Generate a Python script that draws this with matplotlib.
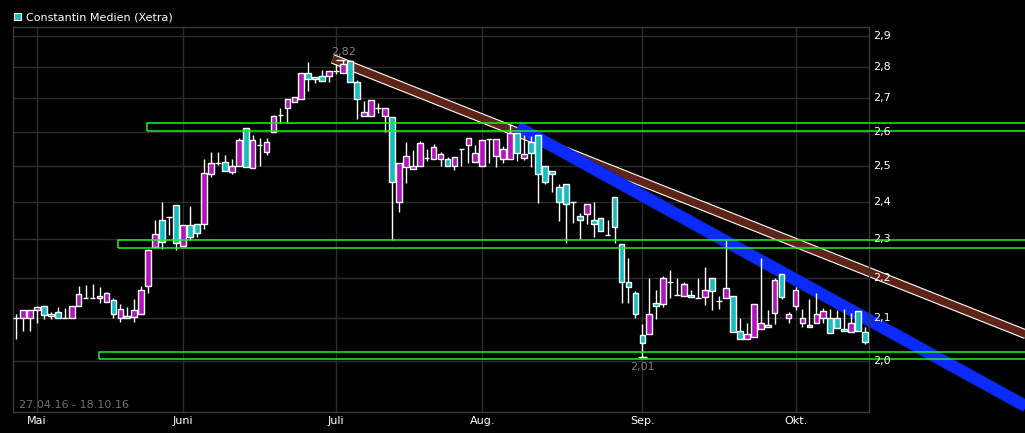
import matplotlib
matplotlib.use("Agg")
import matplotlib.pyplot as plt
from matplotlib.patches import Rectangle
from matplotlib.transforms import blended_transform_factory
import numpy as np
import pandas as pd

# trading days (Xetra), 27.04.16 - 18.10.16
holidays = ["2016-05-16", "2016-10-03"]
dates = pd.bdate_range("2016-04-27", "2016-10-18")
dates = dates[~dates.isin(pd.to_datetime(holidays))]

opens = [2.10, 2.10, 2.10, 2.12, 2.13, 2.106, 2.115, 2.10, 2.10, 2.13,
         2.149, 2.149, 2.149, 2.14, 2.145, 2.10, 2.106, 2.103, 2.11, 2.179,
         2.279, 2.35, 2.358, 2.391, 2.281, 2.337, 2.339, 2.339, 2.477, 2.508,
         2.511, 2.482, 2.50, 2.61, 2.494, 2.56, 2.54, 2.60, 2.65, 2.671,
         2.689, 2.699, 2.78, 2.768, 2.771, 2.771, 2.787, 2.78, 2.819, 2.752,
         2.647, 2.647, 2.671, 2.647, 2.644, 2.399, 2.497, 2.491, 2.50, 2.523,
         2.52, 2.52, 2.52, 2.50, 2.549, 2.56, 2.511, 2.50, 2.578, 2.528,
         2.52, 2.52, 2.596, 2.523, 2.569, 2.59, 2.50, 2.485, 2.44, 2.449,
         2.399, 2.361, 2.366, 2.35, 2.355, 2.31, 2.413, 2.286, 2.189, 2.162,
         2.06, 2.063, 2.137, 2.135, 2.189, 2.157, 2.154, 2.157, 2.149, 2.152,
         2.199, 2.142, 2.149, 2.154, 2.07, 2.051, 2.056, 2.075, 2.079, 2.113,
         2.209, 2.10, 2.13, 2.089, 2.084, 2.089, 2.10, 2.10, 2.10, 2.075,
         2.067, 2.118, 2.067]
highs = [2.11, 2.12, 2.12, 2.13, 2.13, 2.115, 2.127, 2.125, 2.13, 2.179,
         2.182, 2.184, 2.177, 2.164, 2.149, 2.135, 2.127, 2.147, 2.179, 2.273,
         2.35, 2.399, 2.358, 2.391, 2.337, 2.388, 2.339, 2.52, 2.54, 2.54,
         2.531, 2.52, 2.58, 2.61, 2.59, 2.58, 2.58, 2.65, 2.671, 2.699,
         2.705, 2.78, 2.815, 2.768, 2.79, 2.787, 2.81, 2.822, 2.82, 2.758,
         2.693, 2.696, 2.686, 2.671, 2.644, 2.508, 2.569, 2.546, 2.572, 2.549,
         2.563, 2.54, 2.525, 2.525, 2.549, 2.581, 2.56, 2.575, 2.578, 2.578,
         2.557, 2.623, 2.596, 2.59, 2.587, 2.59, 2.50, 2.485, 2.449, 2.449,
         2.399, 2.369, 2.393, 2.399, 2.355, 2.35, 2.413, 2.286, 2.25, 2.167,
         2.086, 2.199, 2.169, 2.204, 2.219, 2.199, 2.189, 2.169, 2.199, 2.227,
         2.199, 2.154, 2.297, 2.154, 2.10, 2.089, 2.135, 2.25, 2.12, 2.199,
         2.209, 2.115, 2.177, 2.123, 2.147, 2.162, 2.125, 2.123, 2.12, 2.123,
         2.113, 2.118, 2.08]
lows = [2.05, 2.07, 2.07, 2.089, 2.098, 2.098, 2.10, 2.10, 2.10, 2.13,
        2.149, 2.149, 2.137, 2.14, 2.10, 2.091, 2.10, 2.091, 2.11, 2.162,
        2.279, 2.273, 2.31, 2.271, 2.281, 2.297, 2.305, 2.326, 2.468, 2.502,
        2.485, 2.477, 2.50, 2.497, 2.494, 2.50, 2.53, 2.60, 2.626, 2.626,
        2.689, 2.699, 2.724, 2.749, 2.755, 2.752, 2.777, 2.78, 2.752, 2.638,
        2.647, 2.647, 2.656, 2.599, 2.297, 2.371, 2.451, 2.491, 2.50, 2.514,
        2.52, 2.50, 2.50, 2.488, 2.50, 2.508, 2.511, 2.50, 2.508, 2.497,
        2.508, 2.52, 2.514, 2.517, 2.497, 2.396, 2.449, 2.426, 2.347, 2.289,
        2.342, 2.299, 2.339, 2.305, 2.321, 2.31, 2.289, 2.137, 2.137, 2.10,
        2.01, 2.063, 2.098, 2.127, 2.149, 2.157, 2.154, 2.152, 2.149, 2.132,
        2.12, 2.123, 2.149, 2.067, 2.051, 2.051, 2.056, 2.075, 2.079, 2.086,
        2.147, 2.089, 2.12, 2.079, 2.079, 2.089, 2.089, 2.065, 2.077, 2.07,
        2.067, 2.07, 2.039]
closes = [2.10, 2.12, 2.12, 2.127, 2.108, 2.11, 2.10, 2.10, 2.13, 2.159,
          2.149, 2.149, 2.154, 2.162, 2.11, 2.123, 2.10, 2.12, 2.169, 2.271,
          2.313, 2.292, 2.358, 2.289, 2.337, 2.305, 2.315, 2.48, 2.508, 2.508,
          2.485, 2.50, 2.575, 2.497, 2.575, 2.56, 2.57, 2.645, 2.65, 2.699,
          2.705, 2.78, 2.761, 2.761, 2.755, 2.787, 2.787, 2.809, 2.752, 2.699,
          2.659, 2.696, 2.671, 2.671, 2.454, 2.508, 2.528, 2.50, 2.566, 2.523,
          2.555, 2.534, 2.50, 2.525, 2.549, 2.581, 2.537, 2.575, 2.578, 2.578,
          2.549, 2.596, 2.537, 2.534, 2.537, 2.477, 2.454, 2.477, 2.399, 2.393,
          2.399, 2.35, 2.393, 2.339, 2.321, 2.31, 2.331, 2.189, 2.177, 2.11,
          2.042, 2.11, 2.13, 2.199, 2.189, 2.157, 2.184, 2.152, 2.149, 2.169,
          2.167, 2.142, 2.174, 2.067, 2.051, 2.063, 2.135, 2.089, 2.084, 2.194,
          2.152, 2.11, 2.169, 2.10, 2.079, 2.11, 2.118, 2.065, 2.077, 2.07,
          2.089, 2.07, 2.044]

month_names = {5: "Mai", 6: "Juni", 7: "Juli", 8: "Aug.", 9: "Sep.", 10: "Okt."}
y_levels = [2.0, 2.1, 2.2, 2.3, 2.4, 2.5, 2.6, 2.7, 2.8, 2.9]

# green support/resistance zones: (start index, low, high)
zones = [(18.8, 2.602, 2.626), (14.7, 2.276, 2.297), (11.9, 2.005, 2.021)]
# trend channels: (idx0, price0, idx1, price1)
brown_trend = (45.5, 2.825, 148.0, 2.043)
blue_trend = (72.1, 2.6135, 148.0, 1.875)

UP = "#b414be"
DOWN = "#14bebe"
GRID = "#2c2c2c"

x = np.arange(len(dates))
o = np.array(opens); h = np.array(highs); l = np.array(lows); c = np.array(closes)

fig = plt.figure(figsize=(10.25, 4.33), dpi=100, facecolor="black")
W, H = 1025, 433
ax = fig.add_axes([13 / W, (H - 412) / H, (869 - 13) / W, (412 - 27) / H])
ax.set_facecolor("black")
ax.set_yscale("log")
ax.set_ylim(1.8866, 2.930)
ax.set_xlim(-0.43, 122.56)

for s in ax.spines.values():
    s.set_color("#3a3a3a")
    s.set_linewidth(1)

# grid
for lv in y_levels:
    ax.axhline(lv, color=GRID, lw=1, zorder=0)
month_idx = []
for i in range(1, len(dates)):
    if dates[i].month != dates[i - 1].month:
        month_idx.append(i)
for i in month_idx:
    ax.axvline(i, color=GRID, lw=1, zorder=0)

ax.set_xticks([])
ax.set_yticks([])
ax.yaxis.set_minor_locator(matplotlib.ticker.NullLocator())

# trend channels (drawn beyond the frame)
bx = [brown_trend[0], brown_trend[2]]
by = [brown_trend[1], brown_trend[3]]
ax.plot(bx, by, color="white", lw=7.0, solid_capstyle="butt", clip_on=False, zorder=1)
ax.plot(bx, by, color="#5e2418", lw=5.4, solid_capstyle="butt", clip_on=False, zorder=1.1)
ux = [blue_trend[0], blue_trend[2]]
uy = [blue_trend[1], blue_trend[3]]
ax.plot(ux, uy, color="#0a28c8", lw=9.0, solid_capstyle="butt", clip_on=False, zorder=1.2)
ax.plot(ux, uy, color="#0a2aff", lw=7.6, solid_capstyle="butt", clip_on=False, zorder=1.3)

# candles
ax.vlines(x, l, h, color="white", lw=1, zorder=2)
body_lo = np.minimum(o, c)
body_h = np.abs(c - o)
cols = [UP if cc > oo else DOWN for oo, cc in zip(o, c)]
ax.bar(x, body_h, bottom=body_lo, width=0.82, color=cols, edgecolor="white",
       linewidth=1, zorder=3)

# zones
for start, lo, hi in zones:
    ax.add_patch(Rectangle((start, lo), 160 - start, hi - lo, fill=False,
                           edgecolor="#22ee22", lw=1.1, clip_on=False, zorder=4))

# high / low markers
i_hi = int(np.argmax(h)); i_lo = int(np.argmin(l))
ax.hlines([h[i_hi]], i_hi - 1.0, i_hi + 0.3, color="white", lw=1, zorder=3)
ax.hlines([l[i_lo]], i_lo - 0.65, i_lo + 0.65, color="white", lw=1, zorder=3)
ax.annotate(f"{h[i_hi]:.2f}".replace(".", ","), (i_hi, h[i_hi]), xytext=(0, 2),
            textcoords="offset points", ha="center", va="bottom",
            color="#808080", fontsize=8, zorder=6)
ax.annotate(f"{l[i_lo]:.2f}".replace(".", ","), (i_lo, l[i_lo]), xytext=(0, -4),
            textcoords="offset points", ha="center", va="top",
            color="#808080", fontsize=8, zorder=6)

# y labels at the right
tr = blended_transform_factory(ax.transAxes, ax.transData)
for lv in y_levels:
    ax.text(1.005, lv, f"{lv:.1f}".replace(".", ","), transform=tr, ha="left",
            va="center", color="white", fontsize=8, clip_on=False, zorder=6)

# month labels
trx = blended_transform_factory(ax.transData, ax.transAxes)
for i in month_idx:
    ax.text(i, -0.023, month_names[dates[i].month], transform=trx, ha="center",
            va="center", color="white", fontsize=8)

ax.text(0.007, 0.018, f"{dates[0]:%d.%m.%y} - {dates[-1]:%d.%m.%y}",
        transform=ax.transAxes, ha="left", va="center", color="#707070", fontsize=8)

# title with legend square
fig.patches.append(Rectangle((14 / W, 1 - 20 / H), 7 / W, 7 / H, transform=fig.transFigure,
                             facecolor=DOWN, edgecolor="white", lw=0.8))
fig.text(26 / W, 1 - 17 / H, "Constantin Medien (Xetra)", ha="left", va="center",
         color="white", fontsize=8)

fig.savefig("out.png", dpi=100, facecolor="black")
